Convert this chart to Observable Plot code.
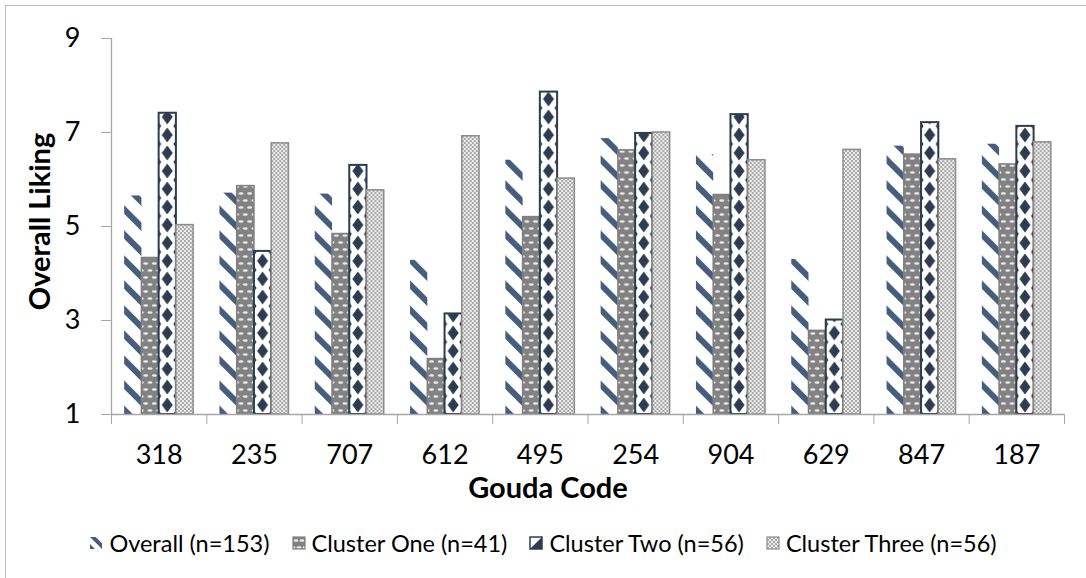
<!DOCTYPE html>
<html><head><meta charset="utf-8">
<script src="https://cdn.jsdelivr.net/npm/d3@7"></script>
<script src="https://cdn.jsdelivr.net/npm/@observablehq/plot@0.6"></script>
<style>
body{margin:0;background:#fff;font-family:Lato,sans-serif;}
#wrap{position:relative;width:1086px;height:578px;overflow:hidden;background:#fff}
#frame{position:absolute;left:5px;top:5px;width:1200px;height:700px;border-left:1.5px solid #bdbdbd;border-top:1.5px solid #bdbdbd;pointer-events:none}
#legend{height:63px;display:flex;justify-content:center;align-items:center;gap:22px;padding-bottom:8px;box-sizing:border-box;font-size:23.5px;color:#000;font-family:Lato,sans-serif}
.item{display:flex;align-items:center;gap:6px}
.item svg{display:block}
</style></head><body><div id="wrap"><div id="chart"></div><div id="legend"></div><div id="frame"></div></div>
<script>
const categories = ["318","235","707","612","495","254","904","629","847","187"];
const series = ["Overall (n=153)","Cluster One (n=41)","Cluster Two (n=56)","Cluster Three (n=56)"];
const overall      = [5.65,5.71,5.69,4.28,6.41,6.87,6.53,4.30,6.71,6.75];
const clusterOne   = [4.33,5.86,4.84,2.18,5.20,6.62,5.67,2.78,6.53,6.32];
const clusterTwo   = [7.41,4.47,6.30,3.14,7.86,6.98,7.38,3.01,7.21,7.13];
const clusterThree = [5.03,6.77,5.77,6.92,6.02,7.00,6.41,6.63,6.43,6.79];
const yTicks = [1,3,5,7,9];
const yLabel = "Overall Liking";
const xLabel = "Gouda Code";

const valuesBySeries = [overall, clusterOne, clusterTwo, clusterThree];
const groupPad = 0.138;
const barW = (1 - 2*groupPad) / series.length;
const rows = valuesBySeries.flatMap((vals, k) => vals.map((v, i) => ({
  k, i, v, base: yTicks[0],
  x1: i + groupPad + k*barW, x2: i + groupPad + (k+1)*barW
})));

const strokes = ["none", "#7f7f7f", "#2f3c4f", "#8c8c8c"];
const strokeWidths = [0, 1.5, 2, 1.5];
const axisGray = "#a6a6a6";

const chart = Plot.plot({
  width: 1086, height: 515,
  marginLeft: 111, marginRight: 22, marginTop: 38, marginBottom: 101,
  style: {fontFamily: "Lato, sans-serif", background: "transparent"},
  x: {domain: [0, categories.length], axis: null},
  y: {domain: [yTicks[0], yTicks[yTicks.length-1]], axis: null},
  marks: [
    ...series.map((s, k) => Plot.rect(rows.filter(r => r.k === k), {
      x1: "x1", x2: "x2", y1: "base", y2: "v",
      fill: "white", stroke: strokes[k], strokeWidth: strokeWidths[k]
    })),
    Plot.ruleY([yTicks[0]], {stroke: axisGray, strokeWidth: 1.3}),
    Plot.ruleX([0], {stroke: axisGray, strokeWidth: 1.3}),
    Plot.axisY({ticks: yTicks, tickSize: 10, tickPadding: 21, fontSize: 27, stroke: axisGray, fill: "#000", label: null}),
    Plot.axisX({ticks: d3.range(categories.length + 1), tickSize: 10, tickFormat: () => "", stroke: axisGray, label: null}),
    Plot.axisX({ticks: categories.map((c, i) => i + 0.5), tickFormat: d => categories[Math.floor(d)], tickSize: 0, tickPadding: 30, fontSize: 27, fill: "#000", label: null}),
    Plot.text([yLabel], {frameAnchor: "left", rotate: -90, dx: -71, dy: -5, textAnchor: "middle", fontWeight: "bold", fontSize: 29, fill: "#000", lineAnchor: "middle"}),
    Plot.text([xLabel], {frameAnchor: "bottom", dx: -40, dy: 74, textAnchor: "middle", fontWeight: "bold", fontSize: 29, fill: "#000", lineAnchor: "middle"})
  ]
});
document.getElementById("chart").appendChild(chart);

function makePattern(defs, id, k, x, y, w) {
  const p = defs.append("pattern").attr("id", id).attr("patternUnits", "userSpaceOnUse");
  if (k === 0) {
    const P = 17.7;
    p.attr("x", x).attr("y", y).attr("width", P).attr("height", P)
     .attr("patternTransform", `rotate(-45 ${x} ${y})`);
    p.append("rect").attr("width", P).attr("height", P).attr("fill", "#fff");
    p.append("rect").attr("width", 6).attr("height", P).attr("fill", "#465d7c");
  } else if (k === 1) {
    const W = w/2, H = 14;
    p.attr("x", x).attr("y", y).attr("width", W).attr("height", H);
    p.append("rect").attr("width", W).attr("height", H).attr("fill", "#828282");
    [[W/2, 3.5], [0, 10.5], [W, 10.5]].forEach(([cx, cy]) =>
      p.append("ellipse").attr("cx", cx).attr("cy", cy).attr("rx", 2.5).attr("ry", 1.2).attr("fill", "#ececec"));
  } else if (k === 2) {
    const W = w, H = 18;
    p.attr("x", x).attr("y", y).attr("width", W).attr("height", H);
    p.append("rect").attr("width", W).attr("height", H).attr("fill", "#fff");
    const dia = (cx, cy, hw, hh) => p.append("path")
      .attr("d", `M${cx},${cy-hh}L${cx+hw},${cy}L${cx},${cy+hh}L${cx-hw},${cy}Z`).attr("fill", "#2f3c4f");
    dia(W/2, H/2, 5.5, 7.5);
    [[0, 0], [W, 0], [0, H], [W, H]].forEach(([cx, cy]) => dia(cx, cy, 2.5, 4));
  } else {
    p.attr("x", x).attr("y", y).attr("width", 4).attr("height", 4);
    p.append("rect").attr("width", 4).attr("height", 4).attr("fill", "#a9a9a9");
    p.append("rect").attr("width", 2).attr("height", 2).attr("fill", "#ededed");
    p.append("rect").attr("x", 2).attr("y", 2).attr("width", 2).attr("height", 2).attr("fill", "#ededed");
  }
}

const svg = d3.select(chart);
const defs = svg.insert("defs", ":first-child");
svg.selectAll('g[aria-label="rect"]').each(function(_, k) {
  d3.select(this).selectAll("rect").each(function(_, j) {
    const r = d3.select(this);
    const x = +r.attr("x"), y = +r.attr("y"), w = +r.attr("width"), h = +r.attr("height");
    const id = `pat${k}_${j}`;
    makePattern(defs, id, k, x, y + h, w);
    r.attr("fill", `url(#${id})`);
  });
});

// legend
const legend = d3.select("#legend");
series.forEach((s, k) => {
  const item = legend.append("div").attr("class", "item");
  const sw = item.append("svg").attr("width", 14).attr("height", 14);
  const d = sw.append("defs");
  const id = `leg${k}`;
  if (k === 0) {
    const p = d.append("pattern").attr("id", id).attr("patternUnits", "userSpaceOnUse")
      .attr("width", 9).attr("height", 9).attr("patternTransform", "rotate(-45)");
    p.append("rect").attr("width", 9).attr("height", 9).attr("fill", "#fff");
    p.append("rect").attr("width", 4).attr("height", 9).attr("fill", "#465d7c");
    sw.append("rect").attr("x", 1).attr("y", 1).attr("width", 12).attr("height", 12).attr("fill", `url(#${id})`);
  } else if (k === 1) {
    makePattern(d, id, 1, 1, 1, 12);
    sw.append("rect").attr("x", 1).attr("y", 1).attr("width", 12).attr("height", 12).attr("fill", `url(#${id})`).attr("stroke", "#7f7f7f").attr("stroke-width", 1.2);
  } else if (k === 2) {
    sw.append("rect").attr("x", 1).attr("y", 1).attr("width", 12).attr("height", 12).attr("fill", "#fff").attr("stroke", "#2f3c4f").attr("stroke-width", 1.5);
    sw.append("path").attr("d", "M1,13L13,13L13,1Z").attr("fill", "#2f3c4f");
  } else {
    makePattern(d, id, 3, 1, 1, 12);
    sw.append("rect").attr("x", 1).attr("y", 1).attr("width", 12).attr("height", 12).attr("fill", `url(#${id})`).attr("stroke", "#8c8c8c").attr("stroke-width", 1.2);
  }
  item.append("span").text(s);
});
</script></body></html>
